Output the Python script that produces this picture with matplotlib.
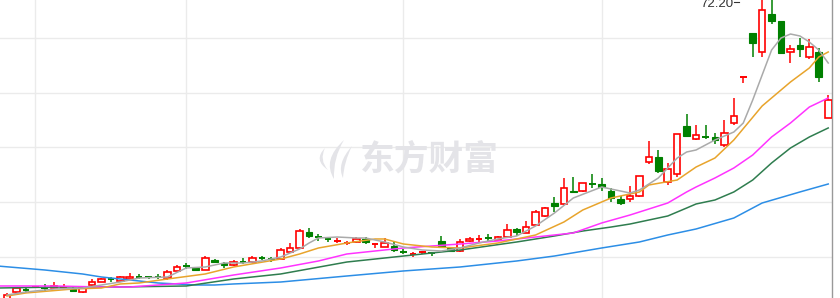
import matplotlib
matplotlib.use("Agg")
import matplotlib.pyplot as plt
import numpy as np
from matplotlib.patches import Rectangle, PathPatch
from matplotlib.path import Path

# daily candles: open, high, low, close
opens = [16.87, 18.52, 18.91, 19.44, 19.27, 19.25, 19.44, 19.07, 18.52, 19.80,
         20.35, 20.92, 20.54, 20.90, 21.29, 21.29, 21.29, 21.08, 22.37, 23.30,
         22.92, 22.55, 24.38, 23.83, 23.47, 24.03, 24.01, 24.77, 24.58, 24.56,
         25.85, 26.58, 29.51, 28.61, 28.25, 27.86, 27.49, 27.68, 28.23, 27.31,
         26.76, 26.94, 25.87, 25.48, 25.85, 25.68, 27.86, 26.58, 26.03, 27.86,
         28.23, 28.43, 28.04, 28.59, 30.06, 29.33, 30.79, 32.44, 34.82, 34.64,
         37.02, 37.02, 38.32, 38.30, 37.02, 35.55, 35.55, 36.10, 42.33, 43.25,
         38.67, 40.13, 48.92, 46.54, 46.93, 46.91, 45.44, 49.47, 57.88, 65.96,
         62.48, 69.44, 68.15, 62.48, 63.76, 61.56, 62.48, 50.39]
highs = [18.34, 19.44, 19.25, 19.62, 19.99, 20.35, 19.99, 19.62, 19.62, 20.90,
         21.08, 21.27, 21.45, 22.00, 21.82, 21.45, 21.82, 22.55, 23.47, 23.83,
         23.10, 25.11, 24.56, 24.01, 24.38, 24.75, 25.11, 25.11, 24.93, 26.58,
         27.49, 30.06, 30.24, 29.14, 28.59, 28.41, 27.86, 28.59, 28.59, 27.33,
         28.41, 27.68, 26.40, 25.85, 26.03, 25.85, 28.78, 26.58, 28.23, 28.59,
         28.96, 29.14, 28.78, 30.97, 30.24, 31.52, 33.54, 34.09, 35.92, 39.40,
         39.58, 38.48, 40.13, 39.40, 37.57, 36.10, 37.93, 39.77, 46.18, 44.53,
         42.15, 47.46, 51.12, 49.11, 49.11, 47.64, 50.02, 54.05, 57.92, 65.96,
         72.20, 72.00, 68.15, 63.76, 65.04, 64.86, 63.21, 54.60]
lows = [16.69, 18.34, 18.34, 19.25, 18.70, 19.07, 19.07, 18.70, 18.34, 19.62,
        20.35, 20.35, 20.54, 20.90, 20.90, 20.90, 20.90, 20.72, 22.37, 22.73,
        22.37, 22.55, 23.83, 22.92, 23.28, 23.65, 23.83, 24.38, 24.01, 24.56,
        25.85, 26.58, 28.41, 27.86, 27.68, 27.49, 27.13, 27.49, 27.31, 26.58,
        26.76, 25.85, 25.48, 24.93, 25.48, 25.11, 26.76, 26.03, 25.85, 27.68,
        27.68, 27.86, 28.04, 28.41, 28.78, 29.33, 30.61, 32.26, 33.17, 34.45,
        36.84, 36.84, 37.57, 37.02, 35.00, 34.45, 35.00, 35.92, 41.96, 40.31,
        38.12, 39.58, 46.91, 46.36, 46.54, 45.63, 45.08, 49.11, 56.80, 61.56,
        61.56, 67.60, 62.29, 60.46, 61.56, 61.19, 56.98, 50.39]
closes = [17.97, 19.25, 18.89, 19.46, 19.25, 19.62, 19.46, 18.70, 19.25, 20.35,
          20.90, 20.90, 21.27, 21.27, 21.27, 21.27, 21.27, 22.18, 23.10, 23.28,
          22.55, 24.75, 24.01, 23.47, 24.01, 24.01, 24.75, 24.75, 24.56, 26.21,
          26.58, 29.69, 28.78, 28.59, 28.23, 27.88, 27.51, 28.23, 27.68, 27.33,
          27.49, 26.21, 25.85, 25.50, 25.87, 25.66, 26.76, 26.03, 27.68, 28.23,
          28.25, 28.41, 28.59, 29.88, 29.51, 30.42, 33.17, 33.90, 34.27, 37.57,
          36.84, 38.48, 38.30, 37.75, 35.74, 34.82, 36.10, 39.77, 43.25, 40.68,
          41.05, 47.46, 47.09, 47.27, 46.91, 46.36, 47.64, 50.75, 57.90, 64.12,
          70.17, 68.15, 62.29, 63.03, 63.03, 63.39, 57.90, 53.68]

# moving average lines (candle index, price)
ma5_idx = [0, 2, 5, 8, 10, 12, 14, 17, 19, 21, 23, 25, 27, 29, 31, 32, 33, 35, 37, 38,
           40, 42, 44, 46, 48, 50, 52, 54, 56, 58, 60, 63, 64, 66, 67, 69, 71, 72, 73,
           75, 77, 78, 79, 80, 81, 82, 83, 84, 85, 86, 87]
ma5 = [17.97, 18.52, 19.07, 19.25, 19.80, 20.35, 21.08, 21.27, 22.92, 23.10, 23.83,
       23.83, 24.20, 24.93, 26.40, 27.49, 28.41, 28.59, 28.41, 28.41, 27.68, 26.76,
       26.21, 26.03, 26.58, 27.49, 28.23, 28.78, 30.61, 32.99, 35.74, 37.75, 37.38,
       36.65, 37.20, 39.40, 43.06, 44.16, 44.53, 46.36, 47.82, 49.47, 53.68, 58.26,
       62.84, 65.04, 65.77, 65.41, 64.31, 62.84, 60.46]
ma10_idx = [0, 2, 7, 10, 12, 14, 17, 21, 24, 29, 31, 33, 36, 39, 40, 42, 45, 48, 52,
            56, 59, 61, 62, 64, 67, 68, 71, 73, 75, 77, 80, 83, 85, 86, 87]
ma10 = [17.79, 18.34, 19.07, 19.25, 19.99, 20.17, 20.90, 21.82, 23.10, 24.56, 25.48,
        26.58, 27.49, 28.23, 28.23, 27.31, 26.76, 26.58, 27.49, 28.96, 31.34, 33.54,
        34.27, 35.74, 36.84, 38.12, 39.03, 41.41, 43.06, 46.36, 52.59, 56.98, 59.55,
        61.56, 62.48]
ma20_idx = [-1, 5, 10, 13, 16, 19, 24, 29, 33, 36, 42, 48, 52, 56, 60, 63, 66, 70, 72,
            73, 75, 77, 79, 81, 83, 85, 87]
ma20 = [19.62, 19.62, 19.44, 19.44, 19.80, 20.17, 21.63, 22.92, 24.20, 25.48, 26.58,
        27.31, 27.86, 28.59, 29.33, 31.16, 32.62, 34.82, 36.84, 37.75, 39.40, 41.23,
        43.61, 46.91, 49.47, 52.40, 54.05]
ma30_idx = [-1, 6, 12, 19, 24, 29, 36, 42, 48, 54, 58, 61, 64, 66, 70, 72, 73, 75, 77,
            79, 81, 83, 85, 87]
ma30 = [19.25, 19.44, 19.44, 19.62, 20.90, 21.82, 24.01, 25.11, 26.21, 27.68, 28.78,
        29.69, 30.42, 30.97, 32.44, 33.90, 34.64, 35.37, 36.84, 39.03, 42.15, 44.89,
        46.91, 48.56]
ma60_idx = [-1, 4, 8, 10, 12, 14, 16, 18, 20, 22, 24, 29, 36, 42, 48, 54, 58, 63, 67,
            70, 73, 77, 80, 84, 87]
ma60 = [23.28, 22.55, 21.82, 21.27, 20.90, 20.54, 20.17, 19.99, 19.80, 19.80, 19.99,
        20.35, 21.45, 22.37, 23.10, 24.20, 25.11, 26.58, 27.68, 28.96, 30.06, 32.07,
        34.82, 36.84, 38.30]

month_starts = [3, 19, 42, 63]
grid_prices = [25, 35, 45, 55, 65]

UP = '#ff0000'
DOWN = '#008000'
WM = '#e4e4e8'

fig = plt.figure(figsize=(8.4, 2.98), dpi=100)
ax = fig.add_axes([0, 0, 832 / 840, 1])

for g in grid_prices:
    ax.axhline(g, color='#ebebeb', lw=1, zorder=0)
for m in month_starts:
    ax.axvline(m, color='#ebebeb', lw=1, zorder=0)

# watermark
fig.text(0.511, 0.468, '东方财富', fontsize=25, fontweight='heavy',
         family=['Noto Sans CJK SC', 'DejaVu Sans'], color=WM,
         ha='center', va='center', zorder=0)

# logo swoosh, figure pixel coords
def swoosh(pts):
    verts = [(x / 840, 1 - y / 298) for x, y in pts]
    codes = [Path.MOVETO, Path.CURVE3, Path.CURVE3, Path.CURVE3, Path.CURVE3, Path.CLOSEPOLY]
    return PathPatch(Path(verts, codes), transform=fig.transFigure, fc=WM,
                     ec='none', zorder=0)

fig.patches.append(swoosh([(344, 140), (322, 160), (334, 179), (333, 158), (344, 140), (344, 140)]))
fig.patches.append(swoosh([(352, 146), (336, 164), (343, 178), (344, 162), (352, 146), (352, 146)]))
fig.patches.append(swoosh([(325, 148), (313, 160), (328, 170), (319, 160), (325, 148), (325, 148)]))

w = 0.7
for i, (o, h, l, c) in enumerate(zip(opens, highs, lows, closes)):
    col = UP if c >= o else DOWN
    ax.vlines(i, l, h, color=col, lw=1.1, zorder=3)
    lo, hi = min(o, c), max(o, c)
    if hi - lo < 0.1:
        ax.hlines((o + c) / 2, i - w / 2, i + w / 2, color=col, lw=1.4, zorder=4)
    elif col == UP:
        ax.add_patch(Rectangle((i - w / 2, lo), w, hi - lo, fc='white', ec=UP, lw=1.2, zorder=4))
    else:
        ax.add_patch(Rectangle((i - w / 2, lo), w, hi - lo, fc=DOWN, ec=DOWN, lw=0.8, zorder=4))

ax.plot(ma60_idx, ma60, color='#2c8ee6', lw=1.1, zorder=5)
ax.plot(ma30_idx, ma30, color='#2f7d4f', lw=1.1, zorder=5)
ax.plot(ma20_idx, ma20, color='#ff33ff', lw=1.1, zorder=5)
ax.plot(ma10_idx, ma10, color='#e8a42c', lw=1.1, zorder=5)
ax.plot(ma5_idx, ma5, color='#aaaaaa', lw=1.1, zorder=5)

# highest price marker
imax = int(np.argmax(highs))
hmax = highs[imax]
ax.text(imax - 3.05, hmax - 0.85, '%.2f' % hmax, ha='right', va='center',
        fontsize=9.5, family=['Liberation Sans', 'DejaVu Sans'], color='#333333', zorder=6)
ax.plot([imax - 3.0, imax - 2.4], [hmax - 0.6, hmax - 0.6], color='#333333', lw=0.8, zorder=6)

ax.set_xlim(-0.74, 87.4)
ax.set_ylim(17.42, 72.0)
ax.set_xticks([])
ax.set_yticks([])
for s in ['top', 'left', 'bottom']:
    ax.spines[s].set_visible(False)
ax.spines['right'].set_color('#999999')
ax.spines['right'].set_linewidth(1)

fig.savefig('out.png', dpi=100)
